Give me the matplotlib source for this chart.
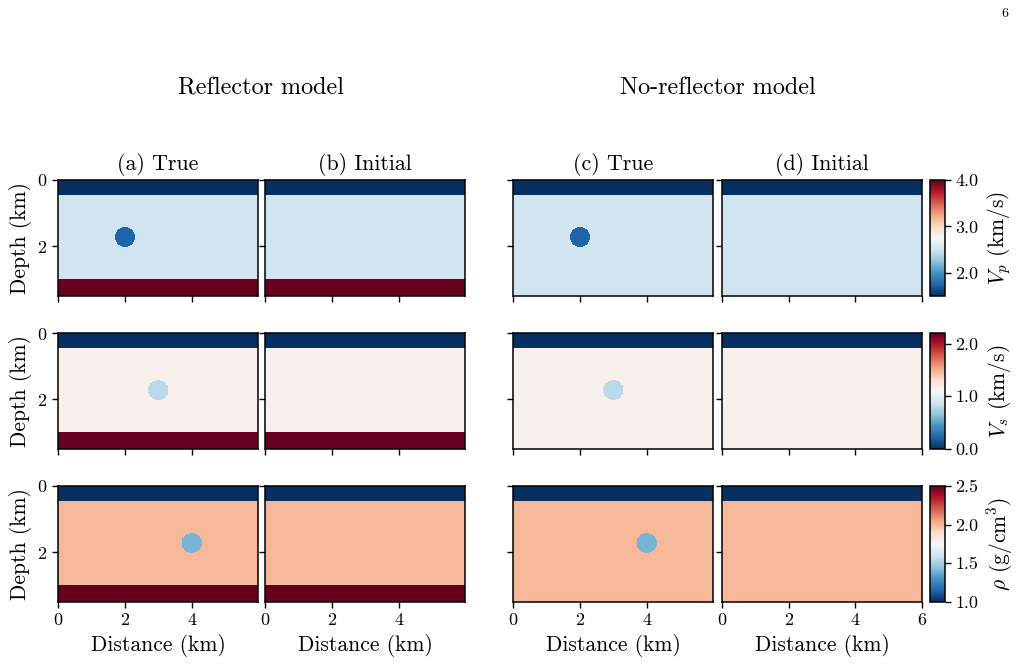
import numpy as np
import matplotlib.pyplot as plt

plt.rcParams['font.family'] = 'serif'
plt.rcParams['font.serif'] = ['cmr10']
plt.rcParams['mathtext.fontset'] = 'cm'
plt.rcParams['axes.formatter.use_mathtext'] = True
plt.rcParams['axes.unicode_minus'] = False

# ============ model description ============
X_MAX = 6.0          # km
Z_MAX = 3.5          # km
DX = 0.02            # km
WATER_DEPTH = 0.45   # km
REFLECTOR_DEPTH = 3.0
ANOMALY_DEPTH = 1.72
ANOMALY_RADIUS = 0.3
ANOMALY_X = [2.0, 3.0, 4.0]     # x of the anomaly in the vp / vs / rho rows

# per-parameter values: water, background, anomaly, reflector
PARAMS = ['vp', 'vs', 'rho']
WATER_VAL = [1.5, 0.0, 1.0]
BACKGROUND_VAL = [2.5, 1.15, 2.0]
ANOMALY_VAL = [1.75, 0.8, 1.4]
REFLECTOR_VAL = [4.0, 2.3, 2.5]

VMIN = [1.5, 0.0, 1.0]
VMAX = [4.0, 2.2, 2.5]
CB_TICKS = [[2.0, 3.0, 4.0], [0.0, 1.0, 2.0], [1.0, 1.5, 2.0, 2.5]]
CB_LABELS = [r'$V_p$ (km/s)', r'$V_s$ (km/s)', r'$\rho$ (g/cm$^3$)']

COL_TITLES = ['(a) True', '(b) Initial', '(c) True', '(d) Initial']
GROUP_TITLES = ['Reflector model', 'No-reflector model']


def build_model(i, reflector, anomaly):
    x = np.arange(0, X_MAX, DX) + DX / 2
    z = np.arange(0, Z_MAX, DX) + DX / 2
    xx, zz = np.meshgrid(x, z)
    m = np.full(xx.shape, BACKGROUND_VAL[i])
    m[zz < WATER_DEPTH] = WATER_VAL[i]
    if reflector:
        m[zz >= REFLECTOR_DEPTH] = REFLECTOR_VAL[i]
    if anomaly:
        r = np.sqrt((xx - ANOMALY_X[i]) ** 2 + (zz - ANOMALY_DEPTH) ** 2)
        m[r <= ANOMALY_RADIUS] = ANOMALY_VAL[i]
    return m


W, H = 1027, 666
fig = plt.figure(figsize=(W / 100, H / 100), dpi=100)

col_left = [58, 265, 513, 722]
ax_w = 200
row_top = [180, 333, 486]
ax_h = 116
cb_left, cb_w = 930, 15


def px_rect(left, top, w, h):
    return [left / W, 1 - (top + h) / H, w / W, h / H]


# (reflector, anomaly) for each column
COL_SETUP = [(True, True), (True, False), (False, True), (False, False)]

for i in range(3):
    for j in range(4):
        ax = fig.add_axes(px_rect(col_left[j], row_top[i], ax_w, ax_h))
        m = build_model(i, *COL_SETUP[j])
        im = ax.imshow(m, cmap='RdBu_r', vmin=VMIN[i], vmax=VMAX[i],
                       extent=[0, X_MAX, Z_MAX, 0], aspect='auto',
                       interpolation='nearest')
        ax.set_xlim(0, X_MAX if j == 3 else X_MAX - 0.02)
        ax.set_ylim(Z_MAX, 0)
        ax.set_yticks([0, 2])
        ax.set_xticks([0, 2, 4, 6] if j == 3 else [0, 2, 4])
        ax.tick_params(labelsize=13, length=4, width=1)
        for s in ax.spines.values():
            s.set_linewidth(1.1)
        if j == 0:
            ax.set_ylabel('Depth (km)', fontsize=15.5)
        else:
            ax.set_yticklabels([])
        if i == 2:
            ax.set_xlabel('Distance (km)', fontsize=15.5)
        else:
            ax.set_xticklabels([])
        if i == 0:
            ax.set_title(COL_TITLES[j], fontsize=15.8, pad=7)

    cax = fig.add_axes(px_rect(cb_left, row_top[i], cb_w, ax_h))
    cb = fig.colorbar(im, cax=cax)
    cb.set_ticks(CB_TICKS[i])
    cb.ax.set_yticklabels([f'{t:.1f}' for t in CB_TICKS[i]])
    cb.ax.tick_params(labelsize=13, length=4, width=1)
    cb.outline.set_linewidth(1.1)
    cb.set_label(CB_LABELS[i], fontsize=15.5, labelpad=5)

group_x = [(col_left[0] + col_left[1] + ax_w) / 2, (col_left[2] + col_left[3] + ax_w) / 2]
for gx, gt in zip(group_x, GROUP_TITLES):
    fig.text(gx / W, 1 - 88 / H, gt, ha='center', va='center', fontsize=17.4)

fig.text(1005 / W, 1 - 14 / H, '6', ha='center', va='center', fontsize=10)

fig.savefig('out.png', dpi=100)
